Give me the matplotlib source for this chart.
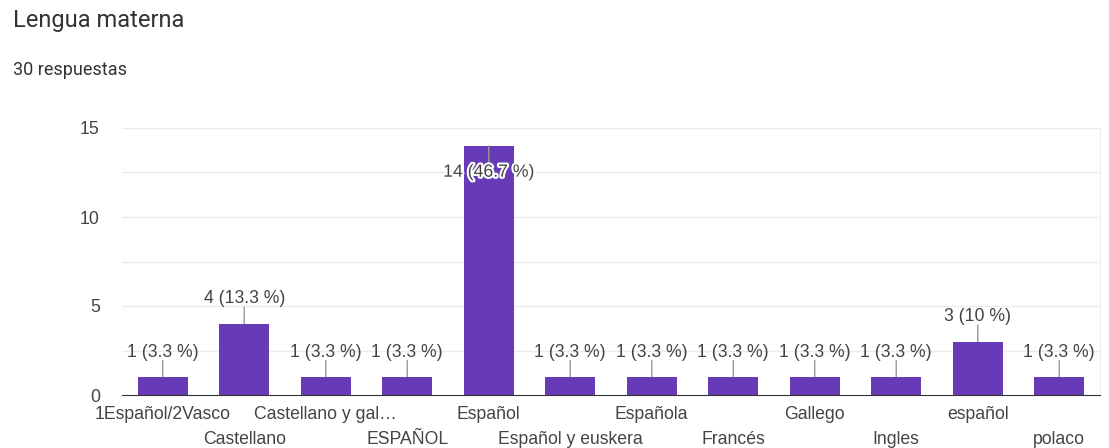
import matplotlib
matplotlib.use("Agg")
import matplotlib.pyplot as plt
import matplotlib.patheffects as pe

plt.rcParams['font.family'] = ['Liberation Sans', 'DejaVu Sans']

categories = ["1Español/2Vasco", "Castellano", "Castellano y gal…", "ESPAÑOL",
              "Español", "Español y euskera", "Española", "Francés",
              "Gallego", "Ingles", "español", "polaco"]
counts = [1, 4, 1, 1, 14, 1, 1, 1, 1, 1, 3, 1]
percents = ["3.3", "13.3", "3.3", "3.3", "46.7", "3.3", "3.3", "3.3", "3.3", "3.3", "10", "3.3"]

bar_color = "#673ab7"
text_color = "#444444"

fig = plt.figure(figsize=(11.09, 4.48), dpi=100)
fig.text(13 / 1109, 1 - 20 / 448, "Lengua materna", family=["Roboto", "DejaVu Sans"],
         fontsize=17, color="#333333", va="center", ha="left")
fig.text(13 / 1109, 1 - 70 / 448, "30 respuestas", family=["Roboto", "DejaVu Sans"],
         fontsize=13, color="#333333", va="center", ha="left")

ax = fig.add_axes([122 / 1109, 1 - 395 / 448, 978 / 1109, 267 / 448])
x = list(range(len(categories)))
ax.bar(x, counts, width=0.61, color=bar_color, zorder=3)

ax.set_xlim(-0.5, len(categories) - 0.5)
ax.set_ylim(0, 15)
ax.set_yticks([0, 5, 10, 15])
for g in [2.5, 5, 7.5, 10, 12.5, 15]:
    ax.axhline(g, color="#ebebeb", lw=1, zorder=1)

for s in ["top", "left"]:
    ax.spines[s].set_visible(False)
ax.spines["right"].set_color("#eeeeee")
ax.spines["bottom"].set_color("#333333")
ax.spines["bottom"].set_zorder(4)

ax.tick_params(axis="y", length=0, pad=16, labelsize=12.7, labelcolor=text_color)
ax.set_xticks(x)
ax.set_xticklabels(categories)
ax.tick_params(axis="x", length=0, labelsize=12.7, labelcolor=text_color)
for i, tick in enumerate(ax.xaxis.get_major_ticks()):
    tick.set_pad(8 if i % 2 == 0 else 26)

# value labels with short leader lines
for xi, c, p in zip(x, counts, percents):
    label = f"{c} ({p} %)"
    if c == 14:
        ax.annotate("", xy=(xi, c), xytext=(0, -12), textcoords="offset points",
                    arrowprops=dict(arrowstyle="-", color="#999999", lw=1,
                                    shrinkA=0, shrinkB=0), zorder=5)
        ax.annotate(label, xy=(xi, c), xytext=(0, -19), textcoords="offset points",
                    ha="center", va="center", fontsize=12.7, color=text_color, zorder=6,
                    path_effects=[pe.withStroke(linewidth=3, foreground="white")])
    else:
        ax.annotate("", xy=(xi, c), xytext=(0, 12), textcoords="offset points",
                    arrowprops=dict(arrowstyle="-", color="#999999", lw=1,
                                    shrinkA=0, shrinkB=0), zorder=2)
        ax.annotate(label, xy=(xi, c), xytext=(0, 18), textcoords="offset points",
                    ha="center", va="center", fontsize=12.7, color=text_color)

fig.savefig("out.png", dpi=100)
